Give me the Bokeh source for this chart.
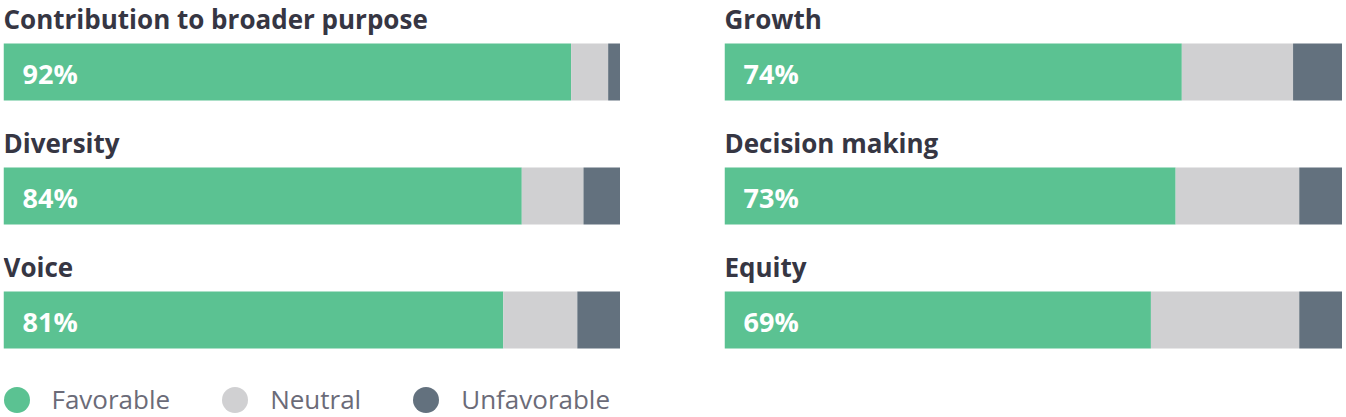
from bokeh.plotting import figure
from bokeh.layouts import row
from bokeh.models import ColumnDataSource, Range1d, Legend, LegendItem
from bokeh.core.properties import value
from bokeh.embed import file_html
from bokeh.resources import INLINE

# ---- data ----
left_categories = ["Contribution to broader purpose", "Diversity", "Voice"]
left_favorable = [92, 84, 81]
left_neutral = [6, 10, 12]
left_unfavorable = [2, 6, 7]

right_categories = ["Growth", "Decision making", "Equity"]
right_favorable = [74, 73, 69]
right_neutral = [18, 20, 24]
right_unfavorable = [8, 7, 7]

series_names = ["Favorable", "Neutral", "Unfavorable"]
colors = ["#5bc292", "#d0d0d2", "#63717e"]

FONT = "Open Sans"


def make_panel(cats, fav, neu, unf, width, border_left, with_legend):
    idx = list(range(len(cats)))
    src = ColumnDataSource(dict(
        y=idx, cat=cats,
        Favorable=fav, Neutral=neu, Unfavorable=unf,
        lab=[f"{v}%" for v in fav],
    ))
    p = figure(width=width, height=417, output_backend="svg", toolbar_location=None,
               x_range=Range1d(0, 100), y_range=Range1d(2.7863, -0.5766),
               x_axis_location=None, y_axis_location=None,
               min_border=0, min_border_left=border_left)
    p.grid.visible = False
    p.outline_line_color = None
    p.hbar_stack(series_names, y="y", height=0.46, color=colors, source=src, line_color=None)
    p.text(x=0, y="y", text="cat", source=src, text_font=value(FONT), text_font_style="bold",
           text_font_size="26px", text_color="#363643", text_baseline="alphabetic",
           text_align="left", y_offset=-53)
    p.text(x=0, y="y", text="lab", source=src, text_font=value(FONT), text_font_style="bold",
           text_font_size="27px", text_color="white", text_baseline="middle",
           text_align="left", x_offset=19, y_offset=1.5)
    if with_legend:
        rs = [p.scatter(x="Favorable", y="y", source=src, marker="circle", size=0,
                        fill_color=c, line_color=None)
              for c in colors]
        items = [LegendItem(label=n, renderers=[r]) for n, r in zip(series_names, rs)]
        leg = Legend(items=items, orientation="horizontal", location=(-19.5, -14.5),
                     glyph_width=65, glyph_height=65, label_standoff=3, spacing=32,
                     padding=0, margin=0, border_line_color=None, background_fill_alpha=0,
                     label_text_font=FONT, label_text_font_size="26px",
                     label_text_color="#6b6b78")
        p.add_layout(leg)
    return p


left = make_panel(left_categories, left_favorable, left_neutral, left_unfavorable, 620, 3, True)
right = make_panel(right_categories, right_favorable, right_neutral, right_unfavorable, 618, 0, False)

layout = row(left, right, spacing=104)
open("out.html", "w").write(file_html(layout, INLINE))
